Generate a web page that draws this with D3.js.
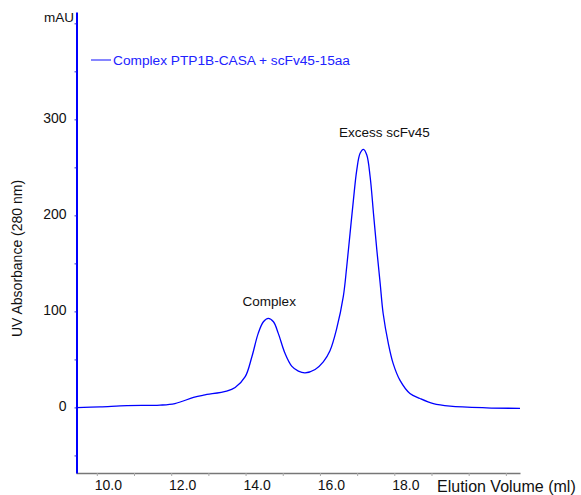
<!DOCTYPE html>
<html>
<head>
<meta charset="utf-8">
<script src="https://cdn.jsdelivr.net/npm/d3@7"></script>
<style>
  body { margin: 0; background: #fff; }
  svg { display: block; font-family: "Liberation Sans", Arial, sans-serif; }
</style>
</head>
<body>
<div id="chart"></div>
<script>
// elution volume (ml) and UV absorbance (mAU)
const volume = [9.46, 10.09, 10.81, 11.70, 12.10, 12.60, 12.87, 13.49, 13.72, 13.99,
  14.17, 14.34, 14.48, 14.61, 14.75, 14.88, 15.06, 15.24, 15.42, 15.60,
  15.87, 16.09, 16.27, 16.45, 16.63, 16.72, 16.81, 16.90, 16.99, 17.08,
  17.17, 17.26, 17.35, 17.44, 17.53, 17.62, 17.70, 17.84, 17.97, 18.15,
  18.42, 18.69, 19.05, 19.50, 20.48, 21.38];
const absorbance = [-0.2, 0.6, 1.9, 2.4, 4.0, 10.4, 12.8, 17.0, 20.8, 32.0,
  52.8, 77.1, 89.2, 92.7, 89.2, 77.1, 56.3, 43.0, 37.8, 36.0,
  39.5, 47.4, 59.0, 82.0, 115.9, 146.5, 181.3, 215.9, 247.2, 264.6,
  268.8, 262.8, 240.2, 202.0, 163.9, 129.1, 97.8, 66.5, 45.6, 28.4,
  14.5, 9.3, 4.0, 1.4, -0.4, -1.0];

const xTicks = [10, 11, 12, 13, 14, 15, 16, 17, 18, 19, 20, 21];
const xTickLabels = ["10.0", "", "12.0", "", "14.0", "", "16.0", "", "18.0", "", "", ""];
const yTicks = [-50, 0, 50, 100, 150, 200, 250, 300, 350, 400];
const yTickLabels = ["", "0", "", "100", "", "200", "", "300", "", ""];

const seriesName = "Complex PTP1B-CASA + scFv45-15aa";
const peakNotes = [
  { label: "Complex", volume: 14.61, absorbance: 92.7, shift: 1 },
  { label: "Excess scFv45", volume: 17.17, absorbance: 268.8, shift: 21 }
];

const width = 581;
const height = 495;
const margin = { top: 12, right: 61, bottom: 22, left: 76 };

const svg = d3.select("#chart")
  .append("svg")
  .attr("width", width)
  .attr("height", height);

const x = d3.scaleLinear()
  .domain([9.44, 21.38])
  .range([margin.left, width - margin.right]);

const y = d3.scaleLinear()
  .domain([-68.3, 411.8])
  .range([height - margin.bottom, margin.top]);

// x axis (grey)
const xAxis = svg.append("g")
  .attr("transform", `translate(0, ${height - margin.bottom})`)
  .call(d3.axisBottom(x)
    .tickValues(xTicks)
    .tickSize(3)
    .tickSizeOuter(0)
    .tickFormat((d, i) => xTickLabels[i]));

xAxis.select(".domain").attr("stroke", "#777").attr("stroke-width", 1.5);
xAxis.selectAll(".tick line").attr("stroke", "#aaa");
xAxis.selectAll(".tick text")
  .attr("x", 11)
  .attr("y", 7)
  .attr("fill", "#111")
  .style("font-size", "14px");

svg.append("text")
  .attr("x", 437)
  .attr("y", 492)
  .attr("fill", "#111")
  .style("font-size", "16px")
  .text("Elution Volume (ml)");

// y axis (blue)
const yAxis = svg.append("g")
  .attr("transform", `translate(${margin.left + 0.5}, 0)`)
  .call(d3.axisLeft(y)
    .tickValues(yTicks)
    .tickSize(2)
    .tickSizeOuter(0)
    .tickFormat((d, i) => yTickLabels[i]));

yAxis.select(".domain").attr("stroke", "#0000ff").attr("stroke-width", 2);
yAxis.selectAll(".tick line").attr("stroke", "#3333cc");
yAxis.selectAll(".tick text")
  .attr("x", -10)
  .attr("dy", "0.25em")
  .attr("fill", "#111")
  .style("font-size", "14px");

svg.append("text")
  .attr("x", 74)
  .attr("y", 22)
  .attr("text-anchor", "end")
  .attr("fill", "#111")
  .style("font-size", "13.5px")
  .text("mAU");

svg.append("text")
  .attr("transform", `translate(22, ${(y(-68.3) + y(411.8)) / 2 + 16}) rotate(-90)`)
  .attr("text-anchor", "middle")
  .attr("fill", "#111")
  .style("font-size", "14px")
  .text("UV Absorbance (280 nm)");

// trace
const points = volume.map((v, i) => [v, absorbance[i]]);
const line = d3.line()
  .x(d => x(d[0]))
  .y(d => y(d[1]))
  .curve(d3.curveCatmullRom.alpha(0.5));

svg.append("path")
  .datum(points)
  .attr("fill", "none")
  .attr("stroke", "#0000ff")
  .attr("stroke-width", 1.3)
  .attr("d", line);

// peak labels
svg.selectAll("text.peak")
  .data(peakNotes)
  .enter()
  .append("text")
  .attr("class", "peak")
  .attr("x", d => x(d.volume) + d.shift)
  .attr("y", d => y(d.absorbance) - 12)
  .attr("text-anchor", "middle")
  .attr("fill", "#111")
  .style("font-size", "13.5px")
  .text(d => d.label);

// legend
const legend = svg.append("g").attr("transform", "translate(91, 60)");
legend.append("line")
  .attr("x1", 0)
  .attr("x2", 20)
  .attr("stroke", "#4444ff")
  .attr("stroke-width", 1.3);
legend.append("text")
  .attr("x", 22)
  .attr("y", 5)
  .attr("fill", "#2222ff")
  .style("font-size", "13.7px")
  .text(seriesName);
</script>
</body>
</html>
